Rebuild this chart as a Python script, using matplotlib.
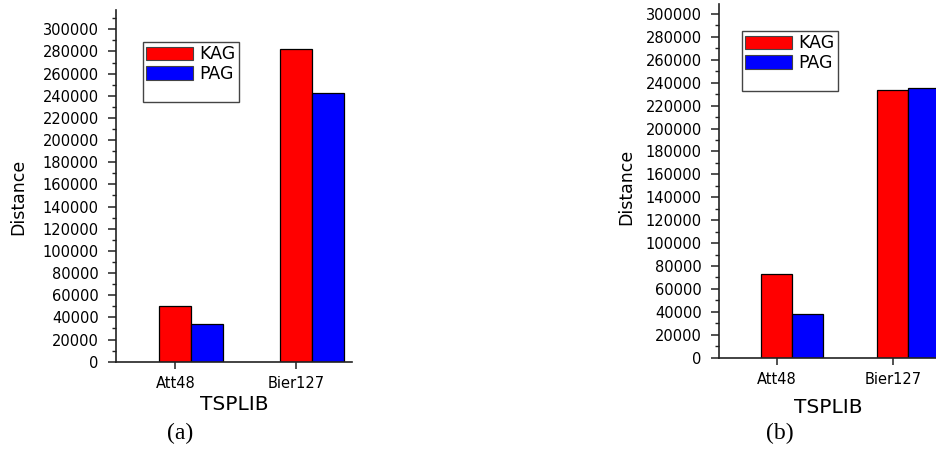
import matplotlib
matplotlib.use("Agg")
import matplotlib.pyplot as plt
from matplotlib.patches import Patch
from matplotlib.ticker import MultipleLocator, FuncFormatter

# values
instances = ["Att48", "Bier127"]
kag_a = [50500, 282000]
pag_a = [34300, 242800]
kag_b = [73300, 233400]
pag_b = [37900, 235100]
y_ticks = list(range(0, 300001, 20000))

W, H = 937, 450


def px_box(left, top, right, bottom):
    "Axes rectangle from pixel edges."
    return [left / W, 1 - bottom / H, (right - left) / W, (bottom - top) / H]


def to_axes(rect, x_px, y_px):
    "Figure pixel position -> axes fraction."
    return ((x_px / W - rect[0]) / rect[2], ((1 - y_px / H) - rect[1]) / rect[3])


def draw_panel(fig, rect, kag, pag, ytop, xlim, width, legend_px, caption, cap_px,
               ylab_px, xlab_top):
    ax = fig.add_axes(rect)
    xs = list(range(1, len(instances) + 1))
    # tick sits at the centre of the first (KAG) bar, as in the original
    ax.bar([x - width / 2 for x in xs], kag, width, align="edge", color="#ff0000",
           edgecolor="black", linewidth=0.9, zorder=2)
    ax.bar([x + width / 2 for x in xs], pag, width, align="edge", color="#0000ff",
           edgecolor="black", linewidth=0.9, zorder=2)
    ax.set_xticks(xs)
    ax.set_xticklabels(instances, fontsize=10.5)
    ax.set_xlim(*xlim)
    ax.set_ylim(0, ytop)
    ax.set_yticks(y_ticks)
    ax.yaxis.set_minor_locator(MultipleLocator(10000))
    ax.yaxis.set_major_formatter(FuncFormatter(lambda v, p: f"{int(v)}"))
    ax.tick_params(axis="y", which="major", length=6, width=1.1, pad=6.5,
                   labelsize=10.5, color="#222222")
    ax.tick_params(axis="y", which="minor", length=3, width=1.0, color="#222222")
    ax.tick_params(axis="x", which="major", length=5, width=1.1, pad=5,
                   color="#222222")
    for s in ("top", "right"):
        ax.spines[s].set_visible(False)
    for s in ("left", "bottom"):
        ax.spines[s].set_linewidth(1.2)
        ax.spines[s].set_color("#222222")

    ax.set_ylabel("Distance", fontsize=12.5)
    ax.yaxis.set_label_coords(*to_axes(rect, *ylab_px))
    ax.set_xlabel("TSPLIB", fontsize=14.5)
    ax.xaxis.set_label_coords(0.5, to_axes(rect, 0, xlab_top)[1])

    handles = [Patch(facecolor="#ff0000", edgecolor="#444444", linewidth=0.8),
               Patch(facecolor="#0000ff", edgecolor="#444444", linewidth=0.8),
               Patch(facecolor="none", edgecolor="none")]
    leg = ax.legend(handles, ["KAG", "PAG", " "], loc="upper left",
                    bbox_to_anchor=(legend_px[0] / W, 1 - legend_px[1] / H),
                    bbox_transform=fig.transFigure, borderaxespad=0,
                    fontsize=12.5, handlelength=2.7, handleheight=0.85,
                    handletextpad=0.35, labelspacing=0.1, borderpad=0.2,
                    fancybox=False, framealpha=1, edgecolor="#444444")
    leg.get_frame().set_linewidth(1.0)
    leg.get_texts()[2].set_fontsize(4)

    fig.text(cap_px[0] / W, 1 - cap_px[1] / H, caption, ha="center", va="center",
             fontsize=17, family="Liberation Serif")
    return ax


fig = plt.figure(figsize=(9.37, 4.5), dpi=100)
plt.rcParams["font.family"] = ["DejaVu Sans"]

draw_panel(fig, px_box(116, 10, 352, 361.7), kag_a, pag_a, 317400,
           (0.51, 2.46), 0.264, (143, 42), "(a)", (180, 433), (27, 197), 395)
draw_panel(fig, px_box(719, 4, 937, 357.7), kag_b, pag_b, 308700,
           (0.504, 2.38), 0.267, (742, 31), "(b)", (780, 433), (635, 187), 398)

fig.savefig("out.png", dpi=100)
